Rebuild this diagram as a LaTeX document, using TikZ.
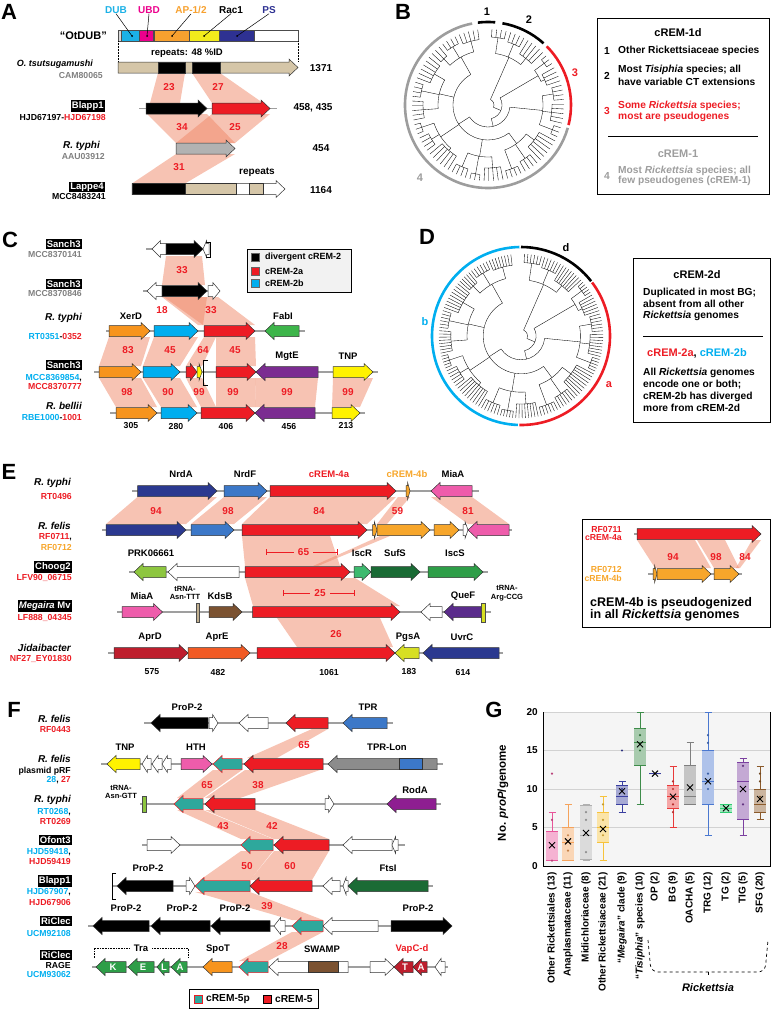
\documentclass[tikz,border=0pt]{standalone}
\usepackage{fontspec}
\setmainfont{Liberation Sans}
\usetikzlibrary{arrows.meta, positioning}

\definecolor{cred}{HTML}{ED1C24}
\definecolor{ccyan}{HTML}{00AEEF}
\definecolor{corange}{HTML}{F7941D}
\definecolor{cyell}{HTML}{FFF200}
\definecolor{cgrey}{HTML}{808080}
\definecolor{cdub}{HTML}{1BB1E6}
\definecolor{cubd}{HTML}{EC008C}
\definecolor{cap}{HTML}{F7A12F}
\definecolor{crac}{HTML}{F2EB1C}
\definecolor{cps}{HTML}{2E3192}
\definecolor{ctan}{HTML}{D5C6A8}
\definecolor{cband}{HTML}{EF8767}
\definecolor{cgreen}{HTML}{3DB54A}
\definecolor{cpurple}{HTML}{7B2C91}
\definecolor{cnavy}{HTML}{2B3990}
\definecolor{cblue}{HTML}{3C78C8}
\definecolor{cpink}{HTML}{EE5CAB}
\definecolor{clime}{HTML}{8DC63F}
\definecolor{ciscr}{HTML}{3DBA6F}
\definecolor{csufs}{HTML}{1A6B35}
\definecolor{ciscs}{HTML}{2E9E48}
\definecolor{cbrown}{HTML}{7B5231}
\definecolor{cquef}{HTML}{5B2C8C}
\definecolor{ctrna}{HTML}{BFAE8E}
\definecolor{cyg}{HTML}{D7DF23}
\definecolor{caprd}{HTML}{BE1E2D}
\definecolor{capre}{HTML}{F15A24}
\definecolor{cteal}{HTML}{2EA89C}
\definecolor{ctpr}{HTML}{8C8C8C}
\definecolor{crod}{HTML}{8E1E91}
\definecolor{cdkgreen}{HTML}{1B6B35}
\definecolor{cring}{HTML}{9D9D9D}
\definecolor{c4b}{HTML}{F7A62B}
\definecolor{cgpink}{HTML}{E8559A}
\definecolor{cgorange}{HTML}{F5A35C}
\definecolor{cggrey}{HTML}{B0B0B0}
\definecolor{cgyel}{HTML}{F7C33C}
\definecolor{cgnavy}{HTML}{3A3FA0}
\definecolor{cggreen}{HTML}{3E8C4A}
\definecolor{cgred}{HTML}{E83A3A}
\definecolor{cgdgrey}{HTML}{7F7F7F}
\definecolor{cgblue}{HTML}{4A78D0}
\definecolor{cglgreen}{HTML}{2ECC71}
\definecolor{cgpurple}{HTML}{7B3FA0}
\definecolor{cgbrown}{HTML}{8B5A2B}

% gene arrow: [extra]{x start}{x tip}{y}{fill}
\newcommand{\gene}[5][]{%
  \pgfmathsetmacro{\gnhx}{#3-(#3>#2 ? 1 : -1)*min(9,abs(#3-#2)*0.6)}%
  \path[draw=black!80, line width=0.5pt, fill=#5, #1]
    (#2,{#4-5.5}) -- (\gnhx,{#4-5.5}) -- (\gnhx,{#4-8.5}) -- (#3,#4)
    -- (\gnhx,{#4+8.5}) -- (\gnhx,{#4+5.5}) -- (#2,{#4+5.5}) -- cycle;}
\newcommand{\blockr}[4]{\path[draw=black!80, line width=0.5pt, fill=#4] (#1,{#3-5.5}) rectangle (#2,{#3+5.5});}
% homology band: x1 x2 ytop x3 x4 ybottom
\newcommand{\hband}[6]{\fill[hom] (#1,#3) -- (#2,#3) -- (#5,#6) -- (#4,#6) -- cycle;}
% radial cladogram, #1 = tips per slot
\newcommand{\radtree}[1]{%
  \foreach \ts/\tn/\rr/\pp in {-264/5/66/55, -246/4/68/55, -231.6/3/64/55, -220.8/6/62/50,
      -199.2/4/68/50, -184.8/5/65/50, -166.8/3/70/57, -156/4/66/57, -141.6/6/60/57,
      -120/4/67/52, -105.6/3/70/52, -94.8/5/63/52, -76.8/4/68/48, -62.4/4/65/48,
      -48/6/58/48, -26.4/3/69/55, -15.6/5/64/55, 2.4/4/66/55, 16.8/4/62/58,
      31.2/3/70/58, 42/5/60/52, 60/4/66/52, 74.4/4/68/52}{%
    \pgfmathtruncatemacro{\tnt}{round(\tn*#1)}%
    \pgfmathsetmacro{\tst}{3.6*\tn/\tnt}%
    \pgfmathsetmacro{\taa}{\ts+\tst/2}%
    \pgfmathsetmacro{\tab}{\ts+(\tnt-0.5)*\tst}%
    \pgfmathsetmacro{\tam}{\ts+\tn*1.8}%
    \foreach \k in {1,...,\tnt}{\draw[twig] ({\ts+(\k-0.5)*\tst}:\rr) -- ({\ts+(\k-0.5)*\tst}:76);}%
    \draw[twig] (\taa:\rr) arc[start angle=\taa, end angle=\tab, radius=\rr];%
    \draw[twig] (\tam:\rr) -- (\tam:\pp);}%
  \foreach \ga/\gb/\rr/\pp in {-255/-226.2/55/35, -210/-175.8/50/35, -161.4/-130.8/57/35,
      -112.8/-85.8/52/35, -69.6/-37.2/48/35, -21/9.6/55/22, 24/36.6/58/14, 51/81.6/52/6}{%
    \pgfmathsetmacro{\tam}{(\ga+\gb)/2}%
    \draw[twig] (\ga:\rr) arc[start angle=\ga, end angle=\gb, radius=\rr];%
    \draw[twig] (\tam:\rr) -- (\tam:\pp);}%
  \draw[twig] (-240.6:35) arc[start angle=-240.6, end angle=-53.4, radius=35];
  \draw[twig] (-147:35) -- (-147:22);
  \draw[twig] (-147:22) arc[start angle=-147, end angle=-5.7, radius=22];
  \draw[twig] (-76.35:22) -- (-76.35:14);
  \draw[twig] (-76.35:14) arc[start angle=-76.35, end angle=30.3, radius=14];
  \draw[twig] (-23:14) -- (-23:6);
  \draw[twig] (-23:6) arc[start angle=-23, end angle=66.3, radius=6];}

\begin{document}
\begin{tikzpicture}[x=1pt, y=-1pt,
  plet/.style={font=\bfseries\fontsize{22}{24}\selectfont, inner sep=0pt},
  lab/.style={font=\bfseries\fontsize{9.5}{10.5}\selectfont, inner sep=0pt},
  acn/.style={font=\bfseries\fontsize{8.7}{10}\selectfont, inner sep=0pt},
  acc/.style={acn, text=cgrey},
  spc/.style={font=\bfseries\itshape\fontsize{10}{11}\selectfont, inner sep=0pt},
  blk/.style={font=\bfseries\fontsize{9.5}{10}\selectfont, fill=black, text=white, inner sep=1.2pt},
  num/.style={font=\bfseries\fontsize{10}{11}\selectfont, text=cred, inner sep=0pt},
  szn/.style={font=\bfseries\fontsize{10}{11}\selectfont, inner sep=0pt},
  leg/.style={font=\bfseries\fontsize{10.2}{12}\selectfont, inner sep=0pt},
  legc/.style={font=\bfseries\fontsize{9}{11}\selectfont, inner sep=0pt},
  legt/.style={font=\bfseries\fontsize{11}{12}\selectfont, inner sep=0pt},
  chrom/.style={draw=gray!75, line width=1.5pt},
  hom/.style={fill=cband, fill opacity=0.5},
  ring/.style={line width=2.6pt},
  twig/.style={line width=0.35pt},
  gcat/.style={font=\bfseries\fontsize{10}{11}\selectfont, inner sep=0pt, rotate=90, anchor=east}]
\useasboundingbox (0,0) rectangle (771,1009);

% ---------------- A
\node[plet] (letA) at (9,12) {A};
\node[szn, text=cdub] (tdub) at (116,10) {DUB};
\node[szn, text=cubd] (tubd) at (149,10) {UBD};
\node[szn, text=cap] (tap) at (191,10) {AP-1/2};
\node[szn] (trac) at (231,10) {Rac1};
\node[szn, text=cps] (tps) at (269,10) {PS};
\foreach \xa/\xb/\cc in {118/121/gray!30, 121/139/cdub, 139/153/cubd, 153/154/gray!30,
    154/189/cap, 189/219/crac, 219/254/cps, 254/298/white}
  \path[draw=black!70, line width=0.4pt, fill=\cc] (\xa,30) rectangle (\xb,41);
\foreach \t/\xx in {tdub/132, tubd/147, tap/172, trac/204, tps/237}{
  \draw[line width=0.5pt] (\t.south) -- (\xx,36);
  \fill (\xx,36) circle (1pt);}
\node[szn, anchor=east, font=\bfseries\fontsize{11}{12}\selectfont] (lotdub) at (107,36) {“OtDUB”};
\draw[densely dotted, line width=0.5pt] (118,41) -- (118,61) (298,41) -- (298,61);
\node[lab] (trep) at (187,53) {repeats: 48 \%ID};

\hband{158}{185}{73}{150}{180}{103}
\hband{192}{220}{73}{212}{263}{103}
\hband{147}{207}{114}{176}{235}{143}
\hband{212}{270}{114}{176}{235}{143}
\hband{176}{235}{154}{132}{185}{183.5}

\gene{118}{298}{67.5}{ctan}
\blockr{158}{185}{67.5}{black}
\blockr{192}{220}{67.5}{black}
\draw[chrom] (139,108.5) -- (277,108.5);
\gene{146}{207}{108.5}{black}
\gene{212}{270}{108.5}{cred}
\gene{176}{235}{148.5}{gray!60}
\gene{132}{285}{189}{white}
\blockr{132}{185}{189}{black}
\blockr{185}{236}{189}{ctan}
\blockr{249}{263}{189}{ctan}
\node[szn] (trep2) at (257,172) {repeats};

\node[spc, anchor=east, font=\bfseries\itshape\fontsize{9}{10}\selectfont] (lots) at (93,64) {O. tsutsugamushi};
\node[acc, anchor=east] (lcam) at (103,76) {CAM80065};
\node[blk, anchor=east] (lblapA) at (105,106) {Blapp1};
\node[acn, anchor=east] (lhjdA) at (106,118) {HJD67197-\textcolor{cred}{HJD67198}};
\node[spc, anchor=east] (ltypA) at (100,146) {R. typhi};
\node[acc, anchor=east] (laau) at (105,157) {AAU03912};
\node[blk, anchor=east] (llap) at (105,187) {Lappe4};
\node[acn, anchor=east] (lmccA) at (106,197) {MCC8483241};
\node[szn] (sz1) at (321,68) {1371};
\node[szn] (sz2) at (313,108) {458, 435};
\node[szn] (sz3) at (321,148) {454};
\node[szn] (sz4) at (321,190) {1164};
\node[num] (pa1) at (169,87) {23};
\node[num] (pa2) at (218,87) {27};
\node[num] (pa3) at (182,127) {34};
\node[num] (pa4) at (235,127) {25};
\node[num] (pa5) at (179,167) {31};

% ---------------- B
\node[plet] (letB) at (403,12) {B};
\begin{scope}[shift={(488,105)}, yscale=-1]
  \radtree{1}
  \draw[ring, cring] (101:83) arc[start angle=101, end angle=344, radius=83];
  \draw[ring] (85:83) arc[start angle=85, end angle=97, radius=83];
  \draw[ring] (48:83) arc[start angle=48, end angle=80, radius=83];
  \draw[ring, cred] (-14:83) arc[start angle=-14, end angle=45, radius=83];
\end{scope}
\node[legt] (bc1) at (487,12) {1};
\node[legt] (bc2) at (529,20) {2};
\node[legt, text=cred] (bc3) at (575,73) {3};
\node[legt, text=cring] (bc4) at (420,178) {4};
\draw[line width=0.8pt] (597,18) rectangle (769,194);
\node[legt] (b1d) at (678,33) {cREM-1d};
\node[leg] (bn1) at (607,51) {1};
\node[leg, anchor=west] (bt1) at (618,51) {Other Rickettsiaceae species};
\node[leg] (bn2) at (607,76) {2};
\node[leg, anchor=west] (bt2a) at (618,70) {Most \textit{Tisiphia} species; all};
\node[leg, anchor=west] (bt2b) at (618,82) {have variable CT extensions};
\node[leg, text=cred] (bn3) at (607,111) {3};
\node[leg, anchor=west, text=cred] (bt3a) at (618,106) {Some \textit{Rickettsia} species;};
\node[leg, anchor=west, text=cred] (bt3b) at (618,117) {most are pseudogenes};
\draw[line width=0.8pt] (608,136) -- (758,136);
\node[legt, text=cring] (b1) at (678,154) {cREM-1};
\node[leg, text=cring] (bn4) at (607,176) {4};
\node[leg, anchor=west, text=cring] (bt4a) at (618,171) {Most \textit{Rickettsia} species; all};
\node[leg, anchor=west, text=cring] (bt4b) at (618,181) {few pseudogenes (cREM-1)};

% ---------------- C
\node[plet] (letC) at (10,240) {C};
\hband{166}{202}{256}{162}{205}{285}
\hband{162}{207}{297}{198}{203}{325}
\hband{164}{218}{297}{203}{255}{325}
\hband{109}{150}{337}{99}{141}{366}
\hband{154}{198}{337}{143}{180}{366}
\hband{204}{216}{337}{186}{202}{366}
\hband{216}{255}{337}{216}{256}{366}
\hband{99}{141}{378}{116}{157}{407}
\hband{143}{180}{378}{161}{197}{407}
\hband{186}{202}{378}{201}{216}{407}
\hband{216}{256}{378}{216}{255}{407}
\hband{256}{318}{378}{255}{315}{407}
\hband{333}{373}{378}{332}{360}{407}

\draw[chrom] (146,249) -- (203,249);
\gene{166}{152}{249}{white}
\gene{166}{203}{249}{black}
\gene{209}{203}{249}{white}
\draw[line width=0.8pt] (206,242) -- (210,242) -- (210,257) -- (206,257);
\draw[chrom] (143,291) -- (220,291);
\gene{162}{147}{291}{white}
\gene{162}{207}{291}{black}
\gene{208}{220}{291}{white}
\draw[chrom] (106,331) -- (305,331);
\gene{109}{150}{331}{corange}
\gene{154}{198}{331}{ccyan}
\gene{204}{255}{331}{cred}
\gene{299}{265}{331}{cgreen}
\draw[chrom] (94,372) -- (378,372);
\gene{99}{141}{372}{corange}
\gene{143}{180}{372}{ccyan}
\gene{186}{197}{372}{cred}
\gene{197}{202}{372}{cyell}
\draw[line width=0.9pt] (208,360) -- (203,360) -- (203,385) -- (208,385);
\gene{216}{256}{372}{cred}
\gene{318}{256}{372}{cpurple}
\gene{333}{373}{372}{cyell}
\draw[chrom] (110,413) -- (365,413);
\gene{116}{157}{413}{corange}
\gene{161}{197}{413}{ccyan}
\gene{201}{255}{413}{cred}
\gene{315}{255}{413}{cpurple}
\gene{332}{360}{413}{cyell}

\node[lab] (gxer) at (131,316) {XerD};
\node[lab] (gfab) at (283,316) {FabI};
\node[lab] (gmgt) at (287,356) {MgtE};
\node[lab] (gtnpc) at (348,356) {TNP};
\foreach \xx/\t in {131/305, 176/280, 226/406, 289/456, 346/213}
  \node[acn] (szc\t) at (\xx,426) {\t};
\foreach \xx/\yy/\t [count=\i] in {182/270/33, 162/310/18, 211/310/33, 128/350/83, 170/350/45,
    203/350/64, 235/350/45, 127/392/98, 168/392/90, 199/392/99, 233/392/99, 287/392/99, 348/392/99}
  \node[num] (pc\i) at (\xx,\yy) {\t};

\node[blk, anchor=east] (lsa1) at (82,244) {Sanch3};
\node[acc, anchor=east] (lsa1b) at (82,255) {MCC8370141};
\node[blk, anchor=east] (lsa2) at (82,284) {Sanch3};
\node[acc, anchor=east] (lsa2b) at (82,294) {MCC8370846};
\node[spc, anchor=east] (ltypC) at (82,318) {R. typhi};
\node[acn, anchor=east] (ltypCb) at (82,337) {\textcolor{ccyan}{RT0351}-\textcolor{cred}{0352}};
\node[blk, anchor=east] (lsa3) at (82,365) {Sanch3};
\node[acn, anchor=east, text=ccyan] (lsa3b) at (82,378) {MCC8369854\textcolor{black}{,}};
\node[acn, anchor=east, text=cred] (lsa3c) at (82,387) {MCC8370777};
\node[spc, anchor=east] (lbel) at (82,406) {R. bellii};
\node[acn, anchor=east] (lbelb) at (82,417) {\textcolor{ccyan}{RBE1000}-\textcolor{cred}{1001}};

\path[draw=black, line width=0.8pt, fill=gray!10] (247,249) rectangle (351,292);
\path[draw=black!60, fill=black] (251,253) rectangle (259,261);
\path[draw=black!60, fill=cred] (251,267) rectangle (259,275);
\path[draw=black!60, fill=ccyan] (251,279) rectangle (259,287);
\node[legc, anchor=west] (lgc1) at (265,257) {divergent cREM-2};
\node[legc, anchor=west] (lgc2) at (265,271) {cREM-2a};
\node[legc, anchor=west] (lgc3) at (265,283) {cREM-2b};

% ---------------- D
\node[plet] (letD) at (427,237) {D};
\begin{scope}[shift={(521,336)}, yscale=-1, scale=1.08]
  \radtree{1.5}
\end{scope}
\begin{scope}[shift={(521,336)}, yscale=-1]
  \draw[ring] (38:89) arc[start angle=38, end angle=90, radius=89];
  \draw[ring, cred] (-91:89) arc[start angle=-91, end angle=37, radius=89];
  \draw[ring, ccyan] (91:89) arc[start angle=91, end angle=268, radius=89];
\end{scope}
\node[legt] (dcd) at (566,248) {d};
\node[legt, text=ccyan] (dcb) at (425,322) {b};
\node[legt, text=cred] (dca) at (609,385) {a};
\draw[line width=0.8pt] (633,258) rectangle (770,422);
\node[legt] (d2d) at (697,275) {cREM-2d};
\node[leg, anchor=west] (dt1) at (643,293) {Duplicated in most BG;};
\node[leg, anchor=west] (dt2) at (643,304) {absent from all other};
\node[leg, anchor=west] (dt3) at (643,316) {\textit{Rickettsia} genomes};
\draw[line width=0.8pt] (643,336) -- (763,336);
\node[legt] (d2ab) at (697,353) {\textcolor{cred}{cREM-2a}, \textcolor{ccyan}{cREM-2b}};
\node[leg, anchor=west] (dt4) at (643,373) {All \textit{Rickettsia} genomes};
\node[leg, anchor=west] (dt5) at (643,385) {encode one or both;};
\node[leg, anchor=west] (dt6) at (643,397) {cREM-2b has diverged};
\node[leg, anchor=west] (dt7) at (643,408) {more from cREM-2d};

% ---------------- E
\node[plet] (letE) at (9,472) {E};
\hband{137.5}{217}{497}{106}{186}{524}
\hband{224}{267}{497}{191}{234}{524}
\hband{270}{396}{497}{242}{367}{524}
\hband{398}{410}{497}{377}{387}{524}
\hband{431}{472}{497}{468}{509}{524}
\hband{242}{330}{536}{245}{340}{566}
\hband{380}{390}{536}{313}{318}{566}
\hband{245}{355}{578}{253}{400}{606}
\hband{277}{380}{618}{297}{393}{647}

\draw[chrom] (132,491) -- (479,491);
\gene{137.5}{217}{491}{cnavy}
\gene{224}{267}{491}{cblue}
\gene{270}{396}{491}{cred}
\gene{406}{410}{491}{c4b}
\gene{472}{431}{491}{cpink}
\draw[chrom] (102,530) -- (512,530);
\gene{106}{186}{530}{cnavy}
\gene{191}{234}{530}{cblue}
\gene{242}{367}{530}{cred}
\gene{372.5}{377}{530}{c4b}
\gene{377}{430}{530}{c4b}
\gene{434}{459}{530}{c4b}
\gene{463}{468}{530}{white}
\gene{509}{468}{530}{cpink}
\draw[chrom] (129,572) -- (487.5,572);
\gene{166}{134}{572}{clime}
\gene{239}{168}{572}{white}
\gene{245}{350}{572}{cred}
\gene{354}{371}{572}{ciscr}
\gene{371}{420}{572}{csufs}
\gene{428}{483}{572}{ciscs}
\draw[chrom] (117,612) -- (491,612);
\gene{122}{162.5}{612}{cpink}
\path[draw=black!70, line width=0.5pt, fill=ctrna] (196,603) rectangle (199,622);
\gene{209}{242}{612}{cbrown}
\gene{252.5}{400}{612}{cred}
\gene{442}{421}{612}{white}
\gene{481}{444}{612}{cquef}
\path[draw=black!70, line width=0.5pt, fill=cyg] (481,603) rectangle (485,622);
\draw[chrom] (108,653) -- (503,653);
\gene{114}{188}{653}{caprd}
\gene{188}{250}{653}{capre}
\gene{257}{395}{653}{cred}
\gene{419}{395}{653}{cyg}
\gene{499}{423}{653}{cnavy}

\draw[cred, line width=0.8pt] (266,549) -- (266,555) (266,552) -- (294,552)
  (313,552) -- (337,552) (337,549) -- (337,555);
\node[num] (pe65) at (303.5,552) {65};
\draw[cred, line width=0.8pt] (283,590) -- (283,596) (283,593) -- (310,593)
  (330,593) -- (354,593) (354,590) -- (354,596);
\node[num] (pe25) at (320,593) {25};
\node[num] (pe94) at (156,511) {94};
\node[num] (pe98) at (228,511) {98};
\node[num] (pe84) at (319,511) {84};
\node[num] (pe59) at (397.5,511) {59};
\node[num] (pe81) at (468,511) {81};
\node[num] (pe26) at (336,634) {26};

\node[lab] (gnrda) at (181,474) {NrdA};
\node[lab] (gnrdf) at (245,474) {NrdF};
\node[lab, text=cred] (g4a) at (329,474) {cREM-4a};
\node[lab, text=c4b] (g4b) at (407,474) {cREM-4b};
\node[lab] (gmia1) at (453,474) {MiaA};
\node[lab] (gprk) at (151,553) {PRK06661};
\node[lab] (giscr) at (362,553) {IscR};
\node[lab] (gsufs) at (395,553) {SufS};
\node[lab] (giscs) at (455,553) {IscS};
\node[lab] (gmia2) at (142,596) {MiaA};
\node[lab, align=center, font=\bfseries\fontsize{7.5}{8.5}\selectfont] (gtrn1) at (185,593) {tRNA-\\Asn-TTT};
\node[lab] (gkds) at (220,596) {KdsB};
\node[lab] (gquef) at (463,596) {QueF};
\node[lab, align=center, font=\bfseries\fontsize{7.5}{8.5}\selectfont] (gtrn2) at (507,593) {tRNA-\\Arg-CCG};
\node[lab] (gaprd) at (150,637) {AprD};
\node[lab] (gapre) at (217,637) {AprE};
\node[lab] (gpgsa) at (408,637) {PgsA};
\node[lab] (guvrc) at (462,637) {UvrC};
\foreach \xx/\t in {152/575, 218/482, 329/1061, 409/183, 463/614}
  \node[acn] (sze\t) at (\xx,672) {\t};

\node[spc, anchor=east] (ltypE) at (71,483) {R. typhi};
\node[acn, anchor=east, text=cred] (ltypEb) at (72,496) {RT0496};
\node[spc, anchor=east] (lfelE) at (71,526) {R. felis};
\node[acn, anchor=east, text=cred] (lfelEb) at (72,537) {RF0711\textcolor{black}{,}};
\node[acn, anchor=east, text=c4b] (lfelEc) at (72,547) {RF0712};
\node[blk, anchor=east] (lchoog) at (72,567) {Choog2};
\node[acn, anchor=east, text=cred] (lchoogb) at (72,578) {LFV90\_06715};
\node[blk, anchor=east] (lmeg) at (72,606) {\itshape Megaira\upshape\ Mv};
\node[acn, anchor=east, text=cred] (lmegb) at (72,618) {LF888\_04345};
\node[spc, anchor=east] (ljid) at (71,648) {Jidaibacter};
\node[acn, anchor=east, text=cred] (ljidb) at (72,659) {NF27\_EY01830};

% E inset
\draw[line width=0.8pt] (582,519) rectangle (770,627);
\hband{637}{695}{540}{655}{711}{568}
\hband{697}{725}{540}{714}{739}{568}
\hband{752}{761}{540}{736}{740}{568}
\draw[chrom] (634,534) -- (761,534);
\gene{637}{761}{534}{cred}
\draw[chrom] (648,574) -- (742,574);
\gene{653}{657}{574}{c4b}
\gene{657}{711}{574}{c4b}
\gene{714}{739}{574}{c4b}
\node[acn, anchor=east, text=cred] (li1) at (622,529) {RF0711};
\node[acn, anchor=east, text=cred] (li2) at (622,538) {cREM-4a};
\node[acn, anchor=east, text=c4b] (li3) at (622,569) {RF0712};
\node[acn, anchor=east, text=c4b] (li4) at (622,578) {cREM-4b};
\node[num] (pi94) at (673,557) {94};
\node[num] (pi98) at (716,557) {98};
\node[num] (pi84) at (745,557) {84};
\node[legt, anchor=west, font=\bfseries\fontsize{12.5}{13}\selectfont] (li5) at (590,603) {cREM-4b is pseudogenized};
\node[legt, anchor=west, font=\bfseries\fontsize{12.5}{13}\selectfont] (li6) at (590,615) {in all \textit{Rickettsia} genomes};

% ---------------- F
\node[plet] (letF) at (14,710) {F};
\hband{312}{328}{729}{247}{277}{758}
\hband{213}{242}{770}{177}{203}{798}
\hband{245}{320}{770}{205}{240}{798}
\hband{177}{203}{810}{241}{273}{839}
\hband{205}{255}{810}{274}{329}{839}
\hband{241}{273}{851}{200}{250}{880}
\hband{274}{329}{851}{250}{312}{880}
\hband{195}{250}{892}{292}{323}{920}
\hband{292}{323}{932}{239}{268}{961}

\draw[chrom] (144,723) -- (393,723);
\gene{208}{151}{723}{black}
\gene{209}{218}{723}{white}
\gene{268}{239}{723}{white}
\gene{328}{286}{723}{cred}
\gene{387}{343}{723}{cblue}
\draw[chrom] (101,764) -- (443,764);
\gene{140}{107}{764}{cyell}
\gene{151}{142}{764}{white}
\gene{162}{152}{764}{white}
\gene{171}{162}{764}{white}
\gene{181}{212}{764}{cpink}
\gene[draw=cred]{242}{213}{764}{cteal}
\gene{323}{244}{764}{cred}
\gene{437}{328}{764}{ctpr}
\blockr{399}{422}{764}{cblue}
\draw[chrom] (140,804) -- (441,804);
\path[draw=black!70, line width=0.5pt, fill=clime] (142,796) rectangle (146,812);
\gene[draw=cred]{203}{174}{804}{cteal}
\gene{255}{205}{804}{cred}
\gene{325}{334}{804}{white}
\gene{436}{387}{804}{crod}
\draw[chrom] (142,845) -- (405,845);
\gene{147}{180}{845}{white}
\gene[draw=cred]{273}{241}{845}{cteal}
\gene{329}{274}{845}{cred}
\gene{392}{343}{845}{white}
\gene{398}{392}{845}{white}
\draw[chrom] (112,886) -- (433,886);
\draw[line width=0.8pt] (116,873) -- (112,873) -- (112,899) -- (116,899);
\gene{173}{117}{886}{black}
\gene{186}{195}{886}{white}
\gene[draw=cred]{250}{195}{886}{cteal}
\gene{312}{250}{886}{cred}
\gene{340}{323}{886}{white}
\gene{348}{343}{886}{white}
\gene{428}{348}{886}{cdkgreen}
\draw[chrom] (88,926) -- (452,926);
\gene{149}{93}{926}{black}
\gene{210}{151}{926}{black}
\gene{270}{211}{926}{black}
\gene{285}{274}{926}{white}
\gene[draw=cred]{323}{292}{926}{cteal}
\gene{378}{323}{926}{white}
\gene{391}{452}{926}{black}
\draw[chrom] (92,967) -- (448,967);
\gene{126}{96}{967}{ciscs}
\gene{154}{128}{967}{ciscs}
\gene{169}{157}{967}{ciscs}
\gene{187}{171}{967}{ciscs}
\gene{232}{203}{967}{corange}
\gene[draw=cred]{268}{239}{967}{cteal}
\gene{348}{269}{967}{white}
\blockr{308}{338}{967}{cbrown}
\gene{370}{394}{967}{white}
\gene{413}{394}{967}{caprd}
\gene{427}{413}{967}{caprd}
\gene{445}{435}{967}{white}
\foreach \xx/\t [count=\i] in {113/K, 143/E, 164/L, 180/A, 405/T, 421/A}
  \node[lab, text=white] (tl\i) at (\xx,967.5) {\t};
\draw[densely dotted, line width=0.6pt] (94,958) -- (94,948) -- (130,948) (152,948) -- (188,948) -- (188,958);
\node[lab] (gtra) at (141,948) {Tra};

\node[lab] (gprop1) at (187,707) {ProP-2};
\node[lab] (gtpr) at (368,707) {TPR};
\node[lab] (gtnpf) at (125,747) {TNP};
\node[lab] (ghth) at (196,747) {HTH};
\node[lab] (gtprl) at (387,747) {TPR-Lon};
\node[lab, align=center, font=\bfseries\fontsize{7.5}{8.5}\selectfont] (gtrn3) at (121,792) {tRNA-\\Asn-GTT};
\node[lab] (groda) at (415,790) {RodA};
\node[lab] (gprop2) at (148,868) {ProP-2};
\node[lab] (gftsi) at (388,868) {FtsI};
\foreach \xx [count=\i] in {126, 182, 235, 418}
  \node[lab] (gpr\i) at (\xx,908) {ProP-2};
\node[lab] (gspot) at (218,949) {SpoT};
\node[lab] (gswamp) at (322,949) {SWAMP};
\node[lab, text=cred] (gvapc) at (412,949) {VapC-d};
\foreach \xx/\yy/\t [count=\i] in {304/745/65, 207/785/65, 258/785/38, 223/826/43, 272/826/42,
    247/866/50, 290/866/60, 267/906/39, 282/946/28}
  \node[num] (pf\i) at (\xx,\yy) {\t};

\node[spc, anchor=east] (lfel1) at (71,719) {R. felis};
\node[acn, anchor=east, text=cred] (lfel1b) at (71,730) {RF0443};
\node[spc, anchor=east] (lfel2) at (71,759) {R. felis};
\node[acn, anchor=east] (lfel2b) at (71,771) {plasmid pRF};
\node[acn, anchor=east] (lfel2c) at (71,780) {\textcolor{ccyan}{28}, \textcolor{cred}{27}};
\node[spc, anchor=east] (ltypF) at (71,800) {R. typhi};
\node[acn, anchor=east, text=ccyan] (ltypFb) at (71,812) {RT0268\textcolor{black}{,}};
\node[acn, anchor=east, text=cred] (ltypFc) at (71,821) {RT0269};
\node[blk, anchor=east] (lofo) at (72,840) {Ofont3};
\node[acn, anchor=east, text=ccyan] (lofob) at (71,852) {HJD59418\textcolor{black}{,}};
\node[acn, anchor=east, text=cred] (lofoc) at (71,861) {HJD59419};
\node[blk, anchor=east] (lblapF) at (72,881) {Blapp1};
\node[acn, anchor=east, text=ccyan] (lblapFb) at (71,892) {HJD67907\textcolor{black}{,}};
\node[acn, anchor=east, text=cred] (lblapFc) at (71,902) {HJD67906};
\node[blk, anchor=east] (lric1) at (72,921) {RiClec};
\node[acn, anchor=east, text=ccyan] (lric1b) at (71,933) {UCM92108};
\node[blk, anchor=east] (lric2) at (72,955) {RiClec};
\node[acn, anchor=east] (lric2b) at (71,965) {RAGE};
\node[acn, anchor=east, text=ccyan] (lric2c) at (71,974) {UCM93062};

\draw[line width=0.9pt, fill=white] (189,989) rectangle (318,1008);
\path[draw=cred, line width=0.7pt, fill=cteal] (194,995) rectangle (202,1003);
\node[leg, anchor=west] (lgf1) at (206,999) {cREM-5p};
\path[draw=black, line width=0.7pt, fill=cred] (263,995) rectangle (271,1003);
\node[leg, anchor=west] (lgf2) at (275,999) {cREM-5};

% ---------------- G
\node[plet] (letG) at (494,710) {G};
\node[lab, rotate=90, font=\bfseries\fontsize{11.5}{12}\selectfont] (gylab) at (503,793) {No. \textit{proP}/genome};
\fill[gray!8] (543,712) rectangle (770,866);
\foreach \v in {5,10,15,20}
  \draw[gray!35, line width=0.6pt] (543,{866-7.7*\v}) -- (770,{866-7.7*\v});
\foreach \v in {0,5,10,15,20}
  \node[szn, anchor=east] (gt\v) at (538,{866-7.7*\v}) {\v};
\begin{scope}[shift={(0,866)}, y=7.7pt]
  \foreach \bx/\bc/\blo/\bqa/\bmd/\bqb/\bhi/\bmn in {552/cgpink/0.7/0.7/0.7/4.5/7/2.7,
      568/cgorange/0.7/0.7/3/5/8/3.2, 586/cggrey/0.7/0.9/4/7.8/8/4.3,
      603/cgyel/0.7/3/5/7/9/4.8, 622/cgnavy/7/8/9/10.5/11/9.7,
      640/cggreen/8/13/16/17.8/20/15.8, 655/cgnavy/12/12/12/12/12/12,
      673/cgred/5/7.5/9/10.5/13/9, 690/cgdgrey/8/8/9/13/16/10.2,
      708/cgblue/4/8/11/15/20/11, 726/cglgreen/7/7/7.5/8/8/7.5,
      743/cgpurple/4/6/11/13.5/14/10, 760/cgbrown/6/7/8/10/13/8.7}{
    \fill[fill=\bc!45] (\bx-6,\bqa) rectangle (\bx+6,\bqb);
    \draw[\bc, line width=0.7pt] (\bx,\blo) -- (\bx,\bqa) (\bx,\bqb) -- (\bx,\bhi)
      (\bx-3.5,\blo) -- (\bx+3.5,\blo) (\bx-3.5,\bhi) -- (\bx+3.5,\bhi);
    \draw[\bc, line width=1pt] (\bx-6,\bqa) -- (\bx+6,\bqa) (\bx-6,\bqb) -- (\bx+6,\bqb)
      (\bx-6,\bmd) -- (\bx+6,\bmd);
    \draw[line width=0.9pt] (\bx,\bmn) +(-3pt,-3pt) -- +(3pt,3pt) (\bx,\bmn) +(-3pt,3pt) -- +(3pt,-3pt);}
  \foreach \bx/\bv/\bc in {552/12/cgpink, 552/6/cgpink, 552/0.7/cgpink, 568/4/cgorange, 568/2/cgorange,
      586/7/cggrey, 586/6/cggrey, 586/1.8/cggrey, 603/8/cgyel, 603/6/cgyel, 603/4/cgyel,
      622/15/cgnavy, 622/10/cgnavy, 640/17/cggreen, 640/15/cggreen, 673/11/cgred, 673/10/cgred,
      673/8/cgred, 673/7/cgred, 708/17/cgblue, 708/16/cgblue, 708/12/cgblue, 708/10/cgblue,
      743/13/cgpurple, 743/8/cgpurple, 760/12/cgbrown, 760/11/cgbrown, 760/9/cgbrown}
    \fill[\bc!80!black] (\bx,\bv) circle (1.2pt);
\end{scope}
\draw[line width=0.8pt] (543,712) -- (543,866) -- (770,866) -- (770,712);
\foreach \bx/\t [count=\i] in {552/Other Rickettsiales (13), 568/Anaplasmataceae (11),
    586/Midichloriaceae (8), 603/Other Rickettsiaceae (21), 622/“\textit{Megaira}” clade (9),
    640/“\textit{Tisiphia}” species (10), 655/OP (2), 673/BG (9), 690/OACHA (5),
    708/TRG (12), 726/TG (2), 743/TIG (5), 760/SFG (20)}
  \node[gcat] (gc\i) at (\bx,872) {\t};
\draw[dashed, line width=0.7pt, rounded corners=7pt] (648,940) -- (651,972) -- (765,972) -- (768,940);
\draw[dashed, line width=0.7pt] (708,972) -- (708,977);
\node[spc, font=\bfseries\itshape\fontsize{11}{12}\selectfont] (grick) at (708,988) {Rickettsia};
\end{tikzpicture}
\end{document}
